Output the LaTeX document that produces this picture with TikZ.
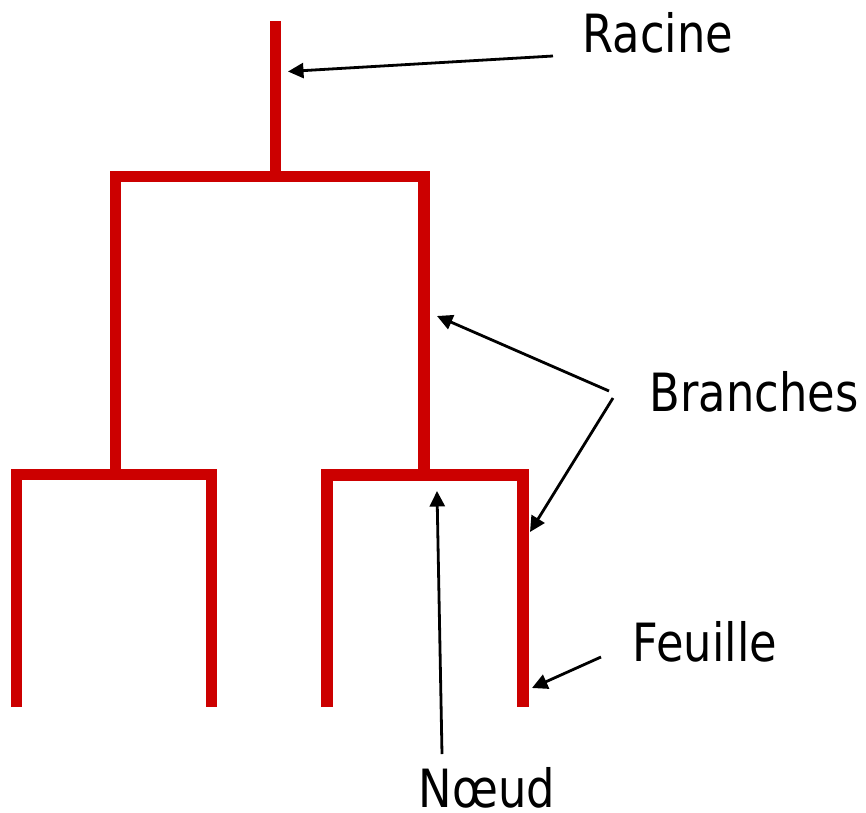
\documentclass[tikz,border=0pt]{standalone}
\usepackage{fontspec}
\setmainfont{DejaVu Sans}[FakeStretch=0.85]
\usetikzlibrary{arrows.meta}
\definecolor{treered}{HTML}{CC0000}

\begin{document}
\begin{tikzpicture}[x=0.02cm, y=-0.02cm]
\tikzstyle{br} = [draw=treered, line width=0.23cm, miter limit=10]
\tikzstyle{lbl} = [inner sep=0, font=\fontsize{30}{36}\selectfont, anchor=base]
\tikzstyle{ptr} = [draw=black, line width=0.056cm, -{Triangle[length=0.31cm, width=0.3cm]}]

\useasboundingbox (0,0) rectangle (866,812);

\coordinate (top) at (275.5, 21);
\coordinate (root) at (275.5, 171);
\coordinate (L) at (115.5, 176.5);
\coordinate (R) at (424, 176.5);
\coordinate (LL) at (16.5, 474.5);
\coordinate (LR) at (211.5, 474.5);
\coordinate (RL) at (327, 475);
\coordinate (RR) at (523, 475);

\draw[br] (top) -- (root);
\draw[br] (L |- LL) -- (L) -- (R) -- (R |- RL);
\draw[br] (LL |- 0,707) -- (LL) -- (LR) -- (LR |- 0,707);
\draw[br] (RL |- 0,707) -- (RL) -- (RR) -- (RR |- 0,707);

\node[lbl](racine) at (658, 52) {Racine};
\node[lbl](branches) at (754, 411) {Branches};
\node[lbl](feuille) at (705, 661) {Feuille};
\node[lbl](noeud) at (487, 807) {Nœud};

\coordinate (racA) at (553, 56);
\coordinate (racB) at (288, 71.5);
\coordinate (brA1) at (609, 391);
\coordinate (brB1) at (437, 316);
\coordinate (brA2) at (613, 398);
\coordinate (brB2) at (530, 532);
\coordinate (feA) at (601, 657);
\coordinate (feB) at (532, 688);
\coordinate (noA) at (442, 754);
\coordinate (noB) at (437, 491);

\draw[ptr] (racA) -- (racB);
\draw[ptr] (brA1) -- (brB1);
\draw[ptr] (brA2) -- (brB2);
\draw[ptr] (feA) -- (feB);
\draw[ptr] (noA) -- (noB);
\end{tikzpicture}
\end{document}
